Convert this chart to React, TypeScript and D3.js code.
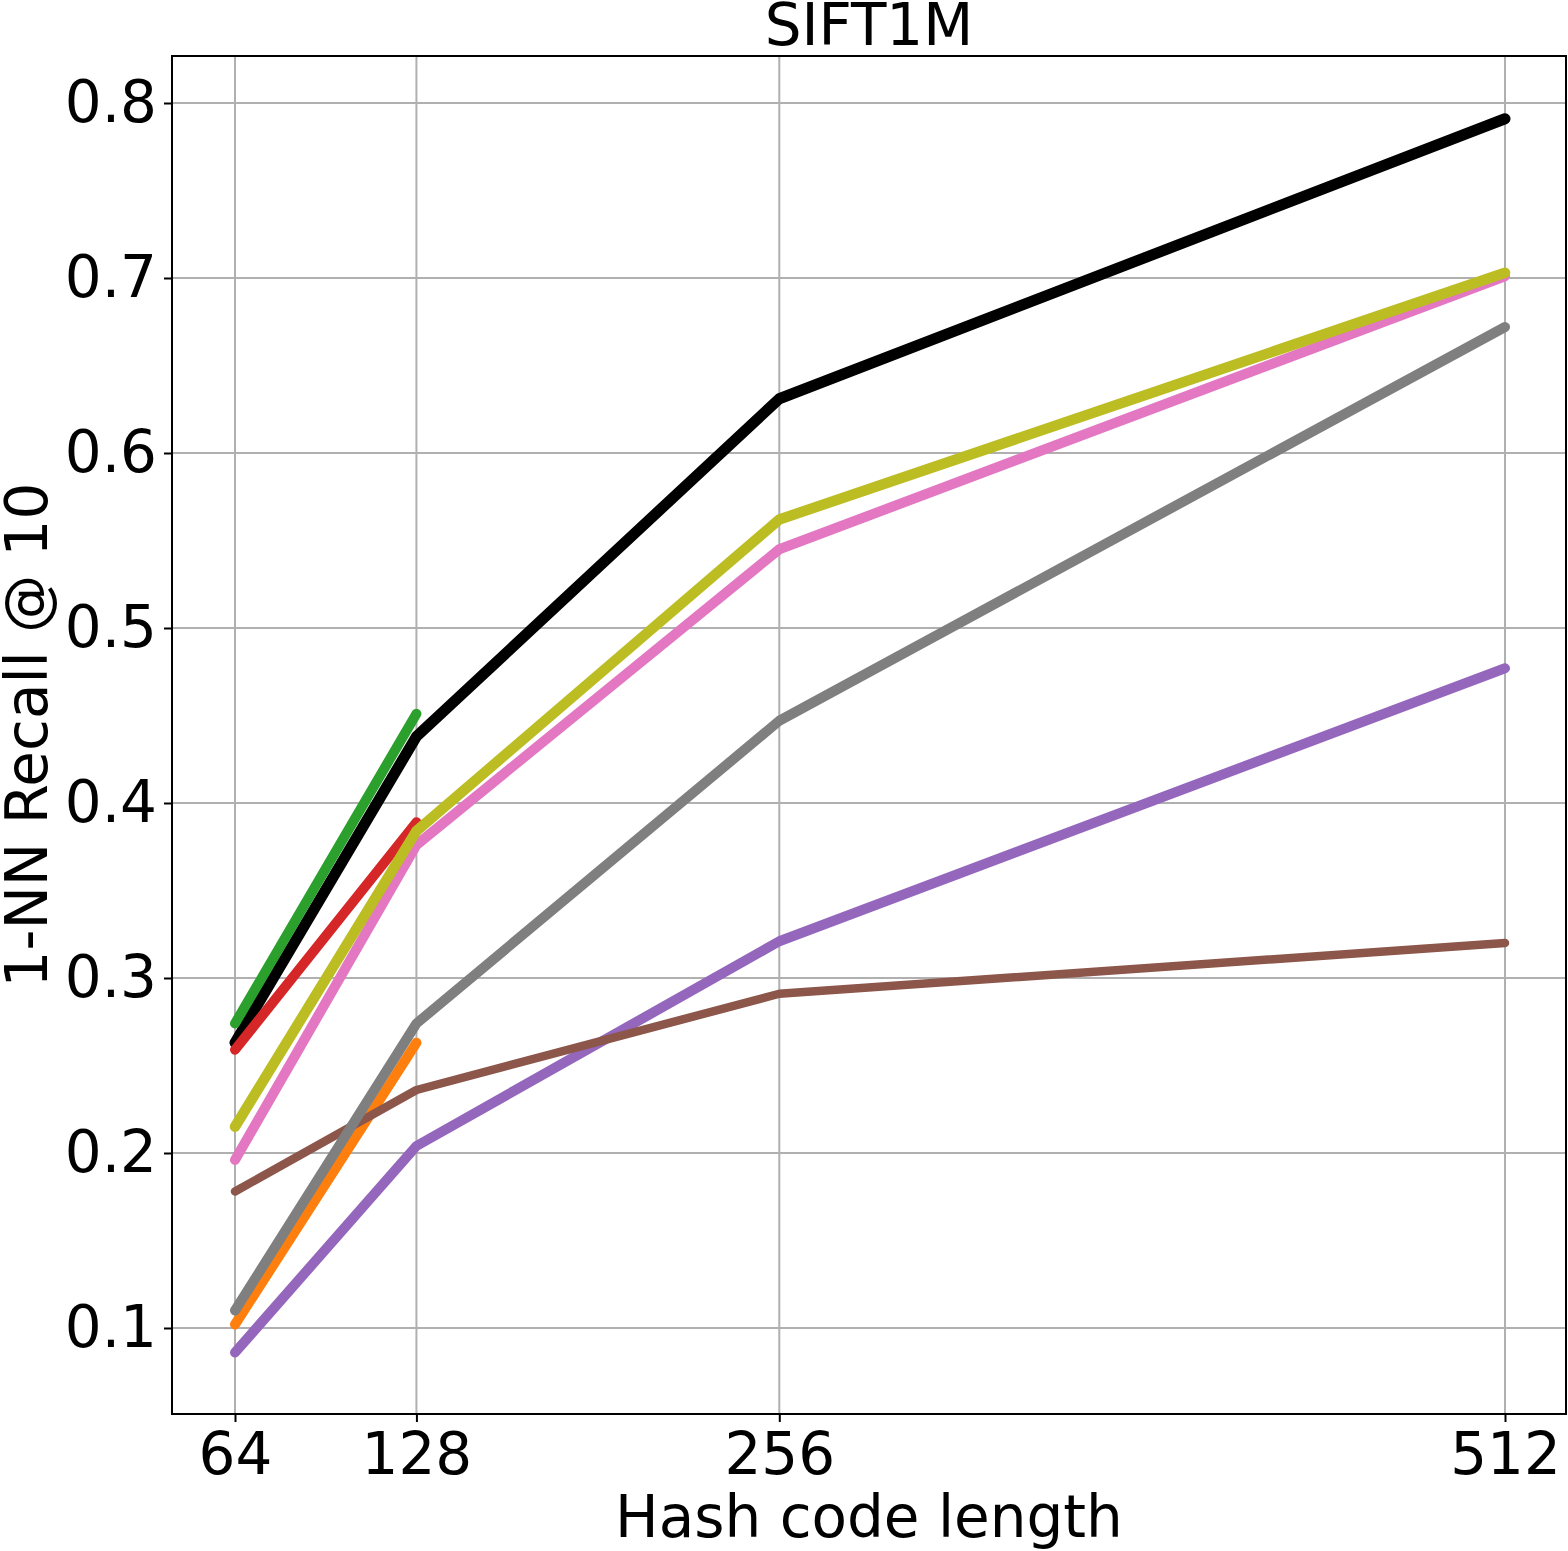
import React, { useRef, useEffect } from 'react';
import * as d3 from 'd3';

// Hash code lengths on the x axis
const codeLengths = [64, 128, 256, 512];
const yTicks = [0.1, 0.2, 0.3, 0.4, 0.5, 0.6, 0.7, 0.8];

// 1-NN recall@10 per method (drawn in this order)
const blackSeries = [0.263, 0.438, 0.631, 0.791];
const orangeSeries = [0.102, 0.263];
const greenSeries = [0.274, 0.451];
const redSeries = [0.259, 0.389];
const purpleSeries = [0.086, 0.204, 0.321, 0.477];
const brownSeries = [0.178, 0.236, 0.291, 0.320];
const pinkSeries = [0.196, 0.376, 0.545, 0.701];
const graySeries = [0.110, 0.274, 0.447, 0.672];
const oliveSeries = [0.215, 0.384, 0.562, 0.703];

const series = [
    { values: blackSeries, color: '#000000', width: 11 },
    { values: orangeSeries, color: '#ff7f0e', width: 10 },
    { values: greenSeries, color: '#2ca02c', width: 10 },
    { values: redSeries, color: '#d62728', width: 10 },
    { values: purpleSeries, color: '#9467bd', width: 10 },
    { values: brownSeries, color: '#8c564b', width: 8.5 },
    { values: pinkSeries, color: '#e377c2', width: 10 },
    { values: graySeries, color: '#7f7f7f', width: 10 },
    { values: oliveSeries, color: '#bcbd22', width: 10.5 },
];

const W = 1568;
const H = 1551;
const FONT = 'DejaVu Sans, sans-serif';
const FONT_SIZE = '58px';

const RecallChart = () => {
    const svgRef = useRef<SVGSVGElement>(null);

    useEffect(() => {
        document.body.style.margin = '0';
        d3.select(svgRef.current).selectAll('*').remove();

        const svg = d3.select(svgRef.current)
            .attr('width', W)
            .attr('height', H)
            .style('background', '#fff')
            .style('display', 'block');

        const left = 172, right = 1566, top = 56, bottom = 1414;

        const x = d3.scaleLinear().domain([64, 512]).range([235, 1505]);
        const y = d3.scaleLinear().domain([0.1, 0.8]).range([1328, 103]);

        // Grid
        const grid = svg.append('g').attr('stroke', '#b0b0b0').attr('stroke-width', 2);
        codeLengths.forEach(v => {
            grid.append('line')
                .attr('x1', x(v)).attr('x2', x(v))
                .attr('y1', top).attr('y2', bottom);
        });
        yTicks.forEach(v => {
            grid.append('line')
                .attr('x1', left).attr('x2', right)
                .attr('y1', y(v)).attr('y2', y(v));
        });

        // Lines
        const line = d3.line<number>()
            .x((_, i) => x(codeLengths[i]))
            .y(d => y(d));

        series.forEach(s => {
            svg.append('path')
                .datum(s.values)
                .attr('fill', 'none')
                .attr('stroke', s.color)
                .attr('stroke-width', s.width)
                .attr('stroke-linecap', 'round')
                .attr('stroke-linejoin', 'round')
                .attr('d', line);
        });

        // Frame
        svg.append('rect')
            .attr('x', left).attr('y', top)
            .attr('width', right - left).attr('height', bottom - top)
            .attr('fill', 'none')
            .attr('stroke', '#000')
            .attr('stroke-width', 2);

        // Axes
        const xAxis = d3.axisBottom(x)
            .tickValues(codeLengths)
            .tickFormat(d3.format('d'))
            .tickSize(8)
            .tickPadding(11);
        const gx = svg.append('g')
            .attr('transform', `translate(0, ${bottom})`)
            .call(xAxis);

        const yAxis = d3.axisLeft(y)
            .tickValues(yTicks)
            .tickFormat(d3.format('.1f'))
            .tickSize(8)
            .tickPadding(7);
        const gy = svg.append('g')
            .attr('transform', `translate(${left}, 0)`)
            .call(yAxis);

        [gx, gy].forEach(g => {
            g.select('.domain').remove();
            g.selectAll('line').attr('stroke', '#000').attr('stroke-width', 2);
            g.selectAll('text')
                .attr('fill', '#000')
                .style('font-family', FONT)
                .style('font-size', FONT_SIZE);
        });

        // Titles
        svg.append('text')
            .attr('x', (left + right) / 2)
            .attr('y', 45)
            .attr('text-anchor', 'middle')
            .style('font-family', FONT)
            .style('font-size', FONT_SIZE)
            .text('SIFT1M');

        svg.append('text')
            .attr('x', (left + right) / 2)
            .attr('y', 1537)
            .attr('text-anchor', 'middle')
            .style('font-family', FONT)
            .style('font-size', FONT_SIZE)
            .text('Hash code length');

        svg.append('text')
            .attr('transform', `translate(47, ${(top + bottom) / 2}) rotate(-90)`)
            .attr('text-anchor', 'middle')
            .style('font-family', FONT)
            .style('font-size', FONT_SIZE)
            .text('1-NN Recall @ 10');
    }, []);

    return <svg ref={svgRef}></svg>;
};

export default function App() {
    return <RecallChart />;
}
